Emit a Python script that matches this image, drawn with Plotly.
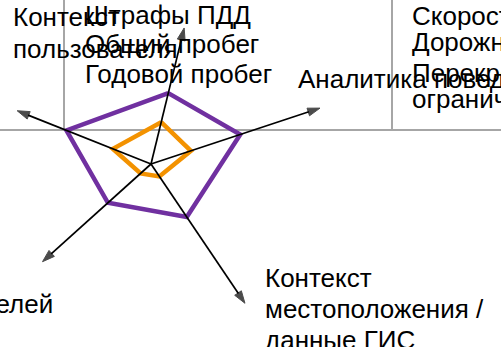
import math
import plotly.graph_objects as go

# Radar axes (clockwise from the top) and their screen directions (degrees, CCW from east)
categories = ["Штрафы ПДД / пробег", "Аналитика поведения",
              "Контекст местоположения / данные ГИС", "Поведение водителей",
              "Контекст пользователя"]
axis_angle = [76.3, 18.3, 304.0, 222.0, 158.3]
axis_length = [140, 178, 168, 146, 144]

# Series values along each axis
purple_vals = [73, 94, 64, 58, 91]
orange_vals = [43, 42, 15, 14, 41]

# Labels
lbl_user = ["Контекст", "пользователя"]
lbl_top = ["Штрафы ПДД", "Общий пробег", "Годовой пробег"]
lbl_right = "Аналитика поведения"
lbl_col = ["Скорость", "Дорожные условия", "Перекрестки /", "ограничения скорости"]
lbl_geo = ["Контекст", "местоположения /", "данные ГИС"]
lbl_ll = "Поведение водителей"

W, H = 501, 347
CX, CY = 151, 164  # pixel position of the radar centre
FS = 26
FONT = "Liberation Sans, Arial, sans-serif"


def xy(r, a):
    return r * math.cos(math.radians(a)), r * math.sin(math.radians(a))


fig = go.Figure()

# polygons
for vals, col in [(purple_vals, "#7030A0"), (orange_vals, "#F39200")]:
    pts = [xy(r, a) for r, a in zip(vals + vals[:1], axis_angle + axis_angle[:1])]
    fig.add_trace(go.Scatter(x=[p[0] for p in pts], y=[p[1] for p in pts],
                             mode="lines", line=dict(color=col, width=4.5),
                             cliponaxis=False, hoverinfo="skip"))

# axis arrows
ax_x, ax_y, sizes = [], [], []
for a, L in zip(axis_angle, axis_length):
    tx, ty = xy(L, a)
    ax_x += [0, tx, None]
    ax_y += [0, ty, None]
    sizes += [0, 13, 0]
fig.add_trace(go.Scatter(x=ax_x, y=ax_y, mode="lines+markers",
                         line=dict(color="black", width=1.7),
                         marker=dict(symbol="arrow", size=sizes, color="black",
                                     line=dict(color="black", width=1),
                                     angleref="previous"),
                         cliponaxis=False, hoverinfo="skip"))

fig.update_layout(
    width=W, height=H, margin=dict(l=0, r=0, t=0, b=0),
    paper_bgcolor="white", plot_bgcolor="rgba(0,0,0,0)", showlegend=False,
    xaxis=dict(range=[-CX, W - CX], visible=False, fixedrange=True),
    yaxis=dict(range=[-(H - CY), CY], visible=False, fixedrange=True),
)

# table-like gray rules
gy = (H - 130) / H
for shp in [dict(x0=0, x1=1, y0=gy, y1=gy),
            dict(x0=64 / W, x1=64 / W, y0=gy, y1=1),
            dict(x0=392 / W, x1=392 / W, y0=gy, y1=1)]:
    fig.add_shape(type="line", xref="paper", yref="paper",
                  line=dict(color="#A6A6A6", width=2), layer="below", **shp)


def txt(t, x, baseline, anchor="left"):
    ymid = baseline - 0.3465 * FS
    fig.add_annotation(text=t, x=x / W, y=(H - ymid) / H, xref="paper", yref="paper",
                       xanchor=anchor, yanchor="middle", showarrow=False,
                       borderpad=0, font=dict(family=FONT, size=FS, color="black"))


for t, b in zip(lbl_user, [26, 58]):
    txt(t, 12, b)
for t, b in zip(lbl_top, [24, 53, 83]):
    txt(t, 84, b)
txt(lbl_right, 297, 88)
for t, b in zip(lbl_col, [25, 51, 82, 108]):
    txt(t, 411, b)
for t, b in zip(lbl_geo, [287, 318, 349]):
    txt(t, 264, b)
txt(lbl_ll, 54, 313, anchor="right")

fig.write_html("out.html", config={"displayModeBar": False},
               post_script="document.body.style.margin='0';document.body.style.overflow='hidden';")
